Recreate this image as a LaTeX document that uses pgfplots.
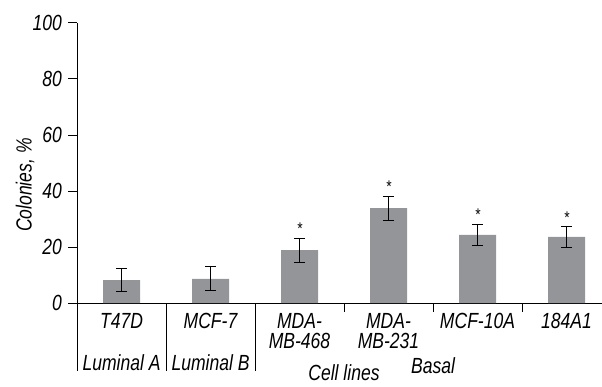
\documentclass[border=0pt]{standalone}
\usepackage{pgfplots}
\pgfplotsset{compat=1.18}
\usepackage{fontspec}
\setmainfont{Liberation Sans}[FakeStretch=0.8]
\definecolor{bargray}{RGB}{147,149,152}
\pgfplotstableread{
x y e
0 8.2 4.1
1 8.6 4.3
2 18.9 4.3
3 33.9 4.3
4 24.3 3.9
5 23.6 3.8
}\data
\newcommand\lblfont{\fontsize{22}{20.5}\selectfont\itshape}
\begin{document}
\lblfont
\begin{tikzpicture}[x=1bp,y=1bp]
\path[use as bounding box] (0,0) rectangle (602,386);
\begin{axis}[
  at={(77bp,83bp)}, anchor=south west,
  scale only axis, width=534bp, height=280bp,
  xmin=-0.5, xmax=5.5, ymin=0, ymax=100,
  axis x line*=bottom, axis y line*=left,
  axis line style={-, line width=1bp, black},
  ytick={0,20,40,60,80,100},
  tick align=outside, major tick length=9bp,
  y tick style={line width=1bp, black},
  x tick style={draw=none},
  xtick={0,1,2,3,4,5},
  xticklabels={T47D, MCF-7, {MDA-\\MB-468}, {MDA-\\MB-231}, MCF-10A, 184A1},
  every tick label/.append style={font=\lblfont},
  xticklabel style={align=center, inner sep=0pt, yshift=-1bp},
  yticklabel style={inner xsep=0pt, xshift=-6bp},
  /pgf/number format/assume math mode=true,
  ylabel={Colonies, \%},
  ylabel style={at={(axis description cs:-0.097,0.421)}, anchor=center, rotate=0, font=\lblfont},
  clip=false,
]
\addplot[ybar, bar width=37bp, fill=bargray, draw=none,
  error bars/.cd, y dir=both, y explicit,
  error bar style={black, line width=1bp},
  error mark options={rotate=90, mark size=5.5bp, black, line width=1bp}]
  table[x=x, y=y, y error=e] {\data};
% stars
\foreach \xx/\yy in {2/23.2, 3/38.2, 4/28.2, 5/27.4} {
  \edef\tmp{\noexpand\node[anchor=north, inner sep=0pt, yshift=15bp, font=\noexpand\fontsize{17}{17}\noexpand\selectfont] at (axis cs:\xx,\yy) {*};}
  \tmp
}
% separators
\draw[line width=1bp] (axis cs:-0.5,0) -- ([yshift=-68bp]axis cs:-0.5,0);
\draw[line width=1bp] (axis cs:0.5,0) -- ([yshift=-68bp]axis cs:0.5,0);
\draw[line width=1bp] (axis cs:1.5,0) -- ([yshift=-68bp]axis cs:1.5,0);
\draw[line width=1bp] (axis cs:2.5,0) -- ([yshift=-9bp]axis cs:2.5,0);
\draw[line width=1bp] (axis cs:3.5,0) -- ([yshift=-9bp]axis cs:3.5,0);
\draw[line width=1bp] (axis cs:4.5,0) -- ([yshift=-9bp]axis cs:4.5,0);
% group labels
\node[font=\lblfont, anchor=base, inner sep=0pt] at ([yshift=-67.7bp]axis cs:0,0) {Luminal A};
\node[font=\lblfont, anchor=base, inner sep=0pt] at ([yshift=-67.7bp]axis cs:1,0) {Luminal B};
\node[font=\lblfont, anchor=base, inner sep=0pt] at ([yshift=-70bp]axis cs:3.5,0) {Basal};
\node[font=\lblfont, anchor=base, inner sep=0pt] at ([yshift=-77bp]axis cs:2.5,0) {Cell lines};
\end{axis}
\end{tikzpicture}
\end{document}
